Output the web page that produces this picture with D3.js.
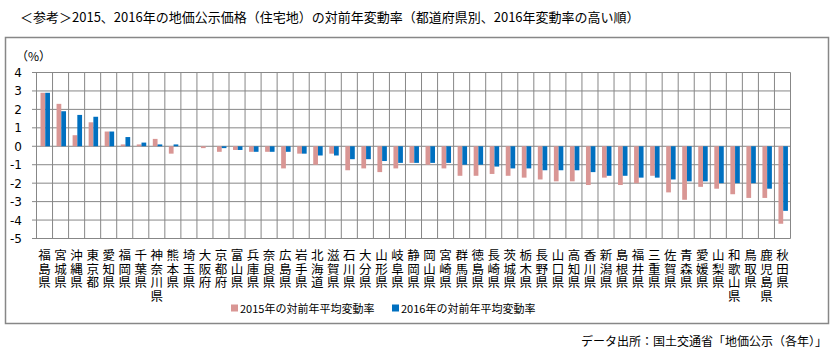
<!DOCTYPE html>
<html>
<head>
<meta charset="utf-8">
<script src="https://cdn.jsdelivr.net/npm/d3@7"></script>
<style>
  body { margin: 0; background: #fff; }
  text { font-family: "Noto Sans CJK JP", "Noto Sans", sans-serif; fill: #000; }
</style>
</head>
<body>
<svg id="chart" width="835" height="363"></svg>
<script>
// prefectures, sorted by 2016 change (high to low)
const prefectures = [
  '福島県','宮城県','沖縄県','東京都','愛知県','福岡県','千葉県','神奈川県','熊本県','埼玉県',
  '大阪府','京都府','富山県','兵庫県','奈良県','広島県','岩手県','北海道','滋賀県','石川県',
  '大分県','山形県','岐阜県','静岡県','岡山県','宮崎県','群馬県','徳島県','長崎県','茨城県',
  '栃木県','長野県','山口県','高知県','香川県','新潟県','島根県','福井県','三重県','佐賀県',
  '青森県','愛媛県','山梨県','和歌山県','鳥取県','鹿児島県','秋田県'
];

const rate2015 = [
  2.9, 2.3, 0.6, 1.3, 0.8, 0.1, 0.1, 0.4, -0.4, 0.0,
  -0.1, -0.3, -0.2, -0.3, -0.3, -1.2, -0.4, -1.0, -0.4, -1.3,
  -1.2, -1.4, -1.2, -0.9, -1.0, -1.2, -1.6, -1.6, -1.5, -1.6,
  -1.7, -1.8, -1.9, -1.9, -2.1, -1.7, -2.1, -2.0, -1.6, -2.5,
  -2.9, -2.2, -2.3, -2.6, -2.8, -2.8, -4.2
];

const rate2016 = [
  2.9, 1.9, 1.7, 1.6, 0.8, 0.5, 0.2, 0.1, 0.1, 0.0,
  0.0, -0.1, -0.2, -0.3, -0.3, -0.3, -0.4, -0.5, -0.5, -0.7,
  -0.7, -0.8, -0.9, -0.9, -0.9, -0.9, -1.0, -1.0, -1.1, -1.2,
  -1.2, -1.3, -1.3, -1.3, -1.4, -1.6, -1.6, -1.7, -1.7, -1.8,
  -1.9, -1.9, -2.0, -2.0, -2.0, -2.3, -3.5
];

const seriesNames = ['2015年の対前年平均変動率', '2016年の対前年平均変動率'];
const seriesColors = ['#D99694', '#0070C0'];
const yTicks = [4, 3, 2, 1, 0, -1, -2, -3, -4, -5];

const svg = d3.select('#chart');
const grey = '#878787';

// title
svg.append('text')
  .attr('x', 20).attr('y', 22)
  .style('font-size', '13px')
  .text('＜参考＞2015、2016年の地価公示価格（住宅地）の対前年変動率（都道府県別、2016年変動率の高い順）');

// outer frame
svg.append('rect')
  .attr('x', 5.5).attr('y', 37.5)
  .attr('width', 823).attr('height', 286)
  .attr('fill', 'none')
  .attr('stroke', grey)
  .attr('stroke-width', 1.5);

const x = d3.scaleBand()
  .domain(d3.range(prefectures.length))
  .range([36.5, 790.5])
  .padding(0);

const y = d3.scaleLinear()
  .domain([-5, 4])
  .range([238.5, 72.5]);

const bw = x.bandwidth();
const xSub = d3.scaleBand()
  .domain([0, 1])
  .range([bw * 0.25, bw * 0.84]);

// horizontal gridlines
svg.append('g')
  .selectAll('line')
  .data(yTicks)
  .join('line')
  .attr('x1', 32).attr('x2', x.range()[1])
  .attr('y1', d => y(d)).attr('y2', d => y(d))
  .attr('stroke', grey).attr('stroke-width', 1);

// vertical gridlines at category edges
svg.append('g')
  .selectAll('line')
  .data(d3.range(prefectures.length + 1))
  .join('line')
  .attr('x1', d => x.range()[0] + d * bw)
  .attr('x2', d => x.range()[0] + d * bw)
  .attr('y1', y(4)).attr('y2', y(-5))
  .attr('stroke', grey).attr('stroke-width', 1);

// y tick labels
svg.append('g')
  .selectAll('text')
  .data(yTicks)
  .join('text')
  .attr('x', 22)
  .attr('y', d => y(d) + 4.5)
  .attr('text-anchor', 'end')
  .style('font-family', '"DejaVu Sans", Verdana, sans-serif')
  .style('font-size', '12px')
  .text(d => d);

svg.append('text')
  .attr('x', 16).attr('y', 61)
  .style('font-size', '12px')
  .text('（%）');

// bars
const series = [rate2015, rate2016];
series.forEach((vals, s) => {
  svg.append('g')
    .selectAll('rect')
    .data(vals)
    .join('rect')
    .attr('x', (d, i) => x(i) + xSub(s))
    .attr('width', xSub.bandwidth())
    .attr('y', d => y(Math.max(0, d)))
    .attr('height', d => Math.abs(y(d) - y(0)))
    .attr('fill', seriesColors[s]);
});

// category labels, vertical writing
svg.append('g')
  .selectAll('text')
  .data(prefectures)
  .join('text')
  .attr('x', (d, i) => x(i) + bw / 2)
  .attr('y', 249)
  .style('writing-mode', 'vertical-rl')
  .style('text-orientation', 'upright')
  .style('letter-spacing', '1px')
  .style('font-size', '12.5px')
  .text(d => d);

// legend
const legendX = [231, 392];
seriesNames.forEach((name, s) => {
  svg.append('rect')
    .attr('x', legendX[s]).attr('y', 304.5)
    .attr('width', 7).attr('height', 7)
    .attr('fill', seriesColors[s]);
  svg.append('text')
    .attr('x', legendX[s] + 9).attr('y', 313)
    .style('font-size', '11px')
    .text(name);
});

// source
svg.append('text')
  .attr('x', 827).attr('y', 346)
  .attr('text-anchor', 'end')
  .style('font-size', '12px')
  .text('データ出所：国土交通省「地価公示（各年）」');
</script>
</body>
</html>
